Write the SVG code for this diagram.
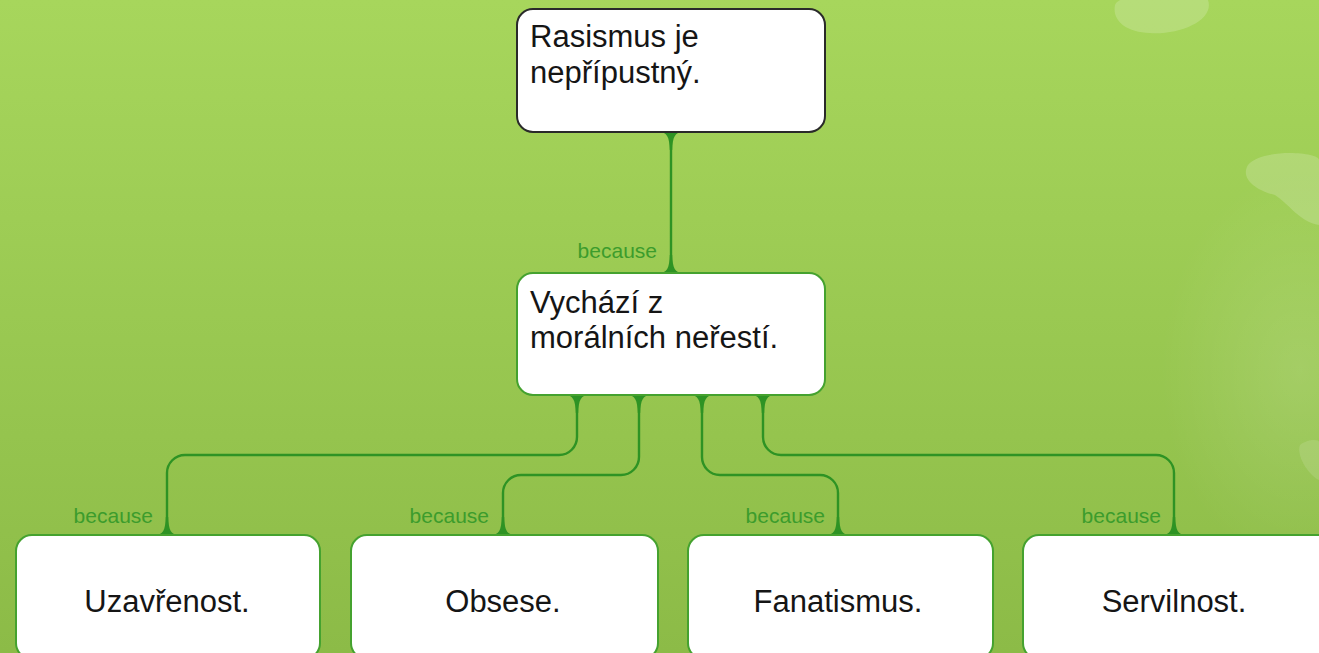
<svg xmlns="http://www.w3.org/2000/svg" width="1319" height="653" viewBox="0 0 1319 653">
  <defs>
    <linearGradient id="bg" x1="0" y1="0" x2="0" y2="1">
      <stop offset="0" stop-color="#a7d65c"/>
      <stop offset="1" stop-color="#8cbb47"/>
    </linearGradient>
    <radialGradient id="glow" cx="0.5" cy="0.5" r="0.5">
      <stop offset="0" stop-color="#ffffff" stop-opacity="0.12"/>
      <stop offset="1" stop-color="#ffffff" stop-opacity="0"/>
    </radialGradient>
    <path id="flare" d="M-12,0 C-4,0 -1.6,5 -1.2,18 L1.2,18 C1.6,5 4,0 12,0 Z"/>
  </defs>
  <style>
    .conn { fill: none; stroke: #2e9324; stroke-width: 2.4; }
    .fl { fill: #2e9324; }
    .box { fill: #ffffff; stroke: #45a22f; stroke-width: 2; }
    .root { fill: #ffffff; stroke: #2a2a2a; stroke-width: 2; }
    .t { font-family: "Liberation Sans", Arial, sans-serif; font-size: 31px; fill: #151515; }
    .c { text-anchor: middle; }
    .lbl { font-family: "Liberation Sans", Arial, sans-serif; font-size: 21px; fill: #3c9c2c; text-anchor: end; }
  </style>

  <rect x="0" y="0" width="1319" height="653" fill="url(#bg)"/>
  <g id="decor">
    <path d="M1115,5 C1120,-10 1200,-12 1208,0 C1215,20 1180,35 1150,33 C1125,32 1112,20 1115,5 Z" fill="#ffffff" fill-opacity="0.18"/>
    <path d="M1248,165 C1262,148 1319,152 1319,160 L1319,225 C1300,222 1290,205 1275,195 C1255,190 1240,178 1248,165 Z" fill="#ffffff" fill-opacity="0.18"/>
    <ellipse cx="1300" cy="370" rx="140" ry="200" fill="url(#glow)"/>
    <path d="M1300,445 C1310,438 1319,440 1319,442 L1319,480 C1308,475 1296,455 1300,445 Z" fill="#ffffff" fill-opacity="0.12"/>
  </g>

  <g id="connectors">
    <path class="conn" d="M671,132 V273"/>
    <path class="conn" d="M577,395 V437 A18,18 0 0 1 559,455 H185 A18,18 0 0 0 167,473 V535"/>
    <path class="conn" d="M639,395 V457 A18,18 0 0 1 621,475 H521 A18,18 0 0 0 503,493 V535"/>
    <path class="conn" d="M702,395 V457 A18,18 0 0 0 720,475 H820 A18,18 0 0 1 838,493 V535"/>
    <path class="conn" d="M763,395 V437 A18,18 0 0 0 781,455 H1156 A18,18 0 0 1 1174,473 V535"/>
    <use href="#flare" class="fl" transform="translate(671,132)"/>
    <use href="#flare" class="fl" transform="translate(671,273) scale(1,-1)"/>
    <use href="#flare" class="fl" transform="translate(577,395)"/>
    <use href="#flare" class="fl" transform="translate(639,395)"/>
    <use href="#flare" class="fl" transform="translate(702,395)"/>
    <use href="#flare" class="fl" transform="translate(763,395)"/>
    <use href="#flare" class="fl" transform="translate(167,535) scale(1,-1)"/>
    <use href="#flare" class="fl" transform="translate(503,535) scale(1,-1)"/>
    <use href="#flare" class="fl" transform="translate(838,535) scale(1,-1)"/>
    <use href="#flare" class="fl" transform="translate(1174,535) scale(1,-1)"/>
    <text class="lbl" x="657" y="258">because</text>
    <text class="lbl" x="153" y="523">because</text>
    <text class="lbl" x="489" y="523">because</text>
    <text class="lbl" x="825" y="523">because</text>
    <text class="lbl" x="1161" y="523">because</text>
  </g>

  <g id="n-root">
    <rect class="root" x="517" y="9" width="308" height="123" rx="16"/>
    <text class="t" x="530" y="47">Rasismus je</text>
    <text class="t" x="530" y="83">nepřípustný.</text>
  </g>
  <g id="n-mid">
    <rect class="box" x="517" y="273" width="308" height="122" rx="16"/>
    <text class="t" x="530" y="313">Vychází z</text>
    <text class="t" x="530" y="348">morálních neřestí.</text>
  </g>
  <g id="n-uzavrenost">
    <rect class="box" x="16" y="535" width="304" height="124" rx="16"/>
    <text class="t c" x="167" y="612">Uzavřenost.</text>
  </g>
  <g id="n-obsese">
    <rect class="box" x="351" y="535" width="307" height="124" rx="16"/>
    <text class="t c" x="503" y="612">Obsese.</text>
  </g>
  <g id="n-fanatismus">
    <rect class="box" x="688" y="535" width="305" height="124" rx="16"/>
    <text class="t c" x="838" y="612">Fanatismus.</text>
  </g>
  <g id="n-servilnost">
    <rect class="box" x="1023" y="535" width="310" height="124" rx="16"/>
    <text class="t c" x="1174" y="612">Servilnost.</text>
  </g>
</svg>
